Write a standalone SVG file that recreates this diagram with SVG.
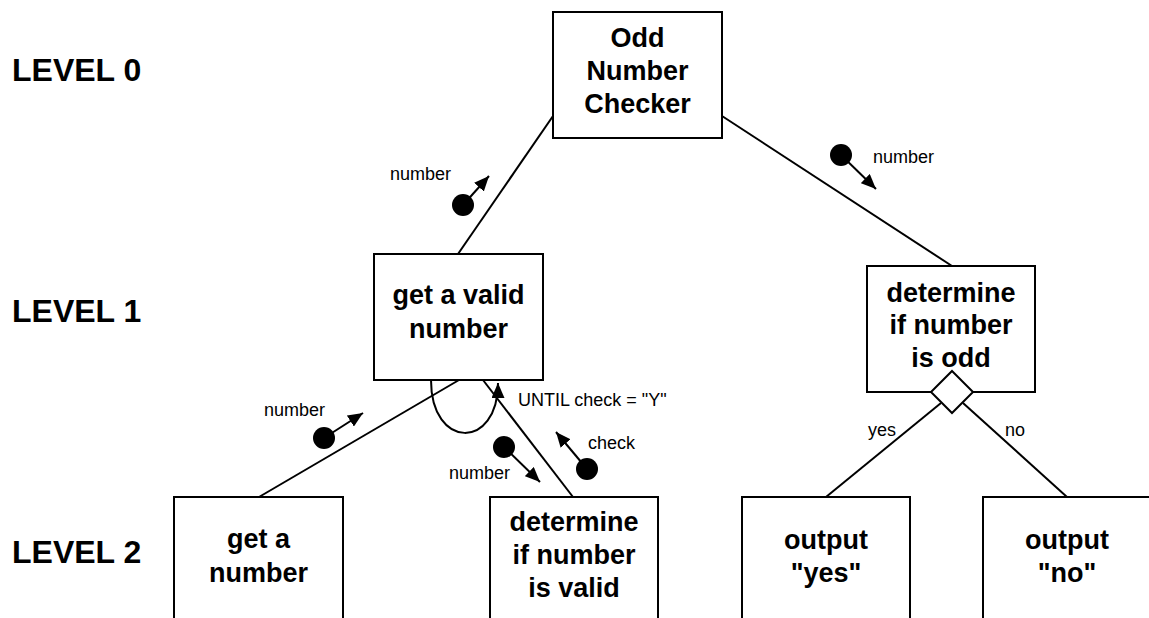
<svg xmlns="http://www.w3.org/2000/svg" width="1149" height="618" viewBox="0 0 1149 618">
<style>
.box{fill:#fff;stroke:#000;stroke-width:2}
.ln{fill:none;stroke:#000;stroke-width:2}
.bt{font-family:"Liberation Sans",Arial,sans-serif;font-weight:bold;font-size:27px;text-anchor:middle;fill:#000}
.lv{font-family:"Liberation Sans",Arial,sans-serif;font-weight:bold;font-size:32px;fill:#000}
.sm{font-family:"Liberation Sans",Arial,sans-serif;font-size:18px;fill:#000}
.dot{fill:#000}
.arr{fill:none;stroke:#000;stroke-width:2;marker-end:url(#ah)}
</style>
<defs>
<marker id="ah" markerUnits="userSpaceOnUse" markerWidth="16" markerHeight="13" refX="15" refY="6.5" orient="auto">
<path d="M0,0 L15,6.5 L0,13 z" fill="#000"/>
</marker>
</defs>
<rect width="1149" height="618" fill="#fff"/>
<g id="level-labels">
<text class="lv" x="12" y="81">LEVEL 0</text>
<text class="lv" x="12" y="322">LEVEL 1</text>
<text class="lv" x="12" y="563">LEVEL 2</text>
</g>
<g id="connectors">
<line class="ln" x1="553" y1="116" x2="458" y2="254"/>
<line class="ln" x1="722" y1="116" x2="952" y2="266"/>
<line class="ln" x1="459" y1="380" x2="259" y2="497"/>
<line class="ln" x1="483" y1="380" x2="573" y2="497"/>
<line class="ln" x1="941" y1="403" x2="826" y2="497"/>
<line class="ln" x1="963" y1="403" x2="1067" y2="497"/>
<path class="arr" d="M431,380 C431,450 498,450 498,383"/>
<text class="sm" x="518" y="406">UNTIL check = "Y"</text>
<text class="sm" x="868" y="436">yes</text>
<text class="sm" x="1005" y="436">no</text>
</g>
<g id="data-couples">
<g id="dc1"><line class="arr" x1="463" y1="205" x2="489" y2="176"/><circle class="dot" cx="463" cy="205" r="11"/><text class="sm" x="390" y="180">number</text></g>
<g id="dc2"><line class="arr" x1="841" y1="155" x2="876" y2="189"/><circle class="dot" cx="841" cy="155" r="11"/><text class="sm" x="873" y="163">number</text></g>
<g id="dc3"><line class="arr" x1="324" y1="438" x2="363" y2="413"/><circle class="dot" cx="324" cy="438" r="11"/><text class="sm" x="264" y="416">number</text></g>
<g id="dc4"><line class="arr" x1="504" y1="447" x2="540" y2="482"/><circle class="dot" cx="504" cy="447" r="11"/><text class="sm" x="449" y="479">number</text></g>
<g id="dc5"><line class="arr" x1="587" y1="469" x2="556" y2="432"/><circle class="dot" cx="587" cy="469" r="11"/><text class="sm" x="588" y="449">check</text></g>
</g>
<g id="odd-number-checker">
<rect class="box" x="553" y="12" width="169" height="126"/>
<text class="bt" x="637.5" y="47">Odd</text>
<text class="bt" x="637.5" y="80">Number</text>
<text class="bt" x="637.5" y="113">Checker</text>
</g>
<g id="get-valid-number">
<rect class="box" x="374" y="254" width="169" height="126"/>
<text class="bt" x="458.5" y="304">get a valid</text>
<text class="bt" x="458.5" y="338">number</text>
</g>
<g id="determine-odd">
<rect class="box" x="867" y="266" width="168" height="126"/>
<text class="bt" x="951" y="302">determine</text>
<text class="bt" x="951" y="334">if number</text>
<text class="bt" x="951" y="367">is odd</text>
<polygon class="box" points="952,371 973,392 952,413 931,392"/>
</g>
<g id="get-number">
<rect class="box" x="174" y="497" width="169" height="140"/>
<text class="bt" x="258.5" y="548">get a</text>
<text class="bt" x="258.5" y="582">number</text>
</g>
<g id="determine-valid">
<rect class="box" x="490" y="497" width="168" height="140"/>
<text class="bt" x="574" y="531">determine</text>
<text class="bt" x="574" y="564">if number</text>
<text class="bt" x="574" y="597">is valid</text>
</g>
<g id="output-yes">
<rect class="box" x="742" y="497" width="168" height="140"/>
<text class="bt" x="826" y="549">output</text>
<text class="bt" x="826" y="582">"yes"</text>
</g>
<g id="output-no">
<rect class="box" x="983" y="497" width="169" height="140"/>
<text class="bt" x="1067" y="549">output</text>
<text class="bt" x="1067" y="582">"no"</text>
</g>
</svg>
